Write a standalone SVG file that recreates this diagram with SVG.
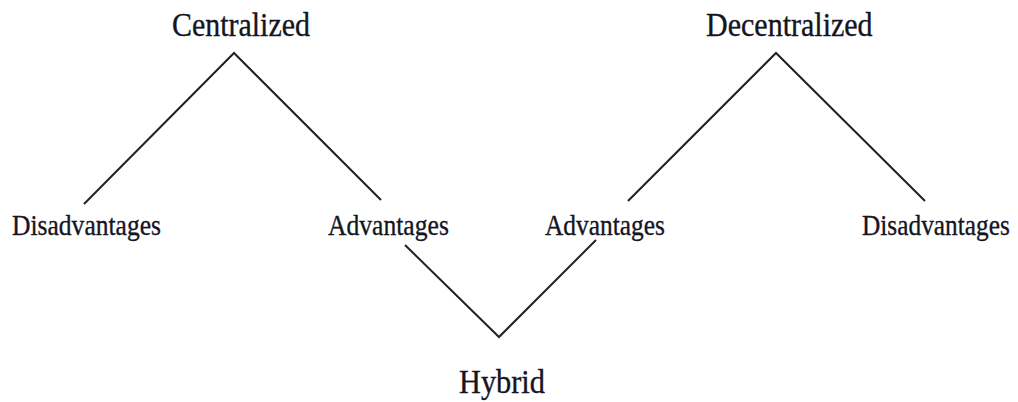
<svg xmlns="http://www.w3.org/2000/svg" width="1018" height="402" viewBox="0 0 1018 402">
  <style>
    .lbl { font-family: "Liberation Serif", "Times New Roman", serif; fill: #15151f; stroke: #15151f; stroke-width: 0.35; }
    .top { font-size: 33px; }
    .mid { font-size: 30px; }
    .edge { fill: none; stroke: #222; stroke-width: 2; stroke-linecap: butt; stroke-linejoin: miter; }
  </style>
  <rect width="1018" height="402" fill="#fff"/>

  <g id="connectors">
    <polyline class="edge" points="84,204 234,53 381,200"/>
    <polyline class="edge" points="405,245 499,337 596,240"/>
    <polyline class="edge" points="628,201 776,53 925,201"/>
  </g>

  <!-- labels are narrowed horizontally with a scale transform -->
  <g id="centralized">
    <text class="lbl top" transform="translate(172,36) scale(0.907,1)">Centralized</text>
  </g>
  <g id="decentralized">
    <text class="lbl top" transform="translate(706,36) scale(0.91,1)">Decentralized</text>
  </g>
  <g id="centralized-disadvantages">
    <text class="lbl mid" transform="translate(12,235) scale(0.852,1)">Disadvantages</text>
  </g>
  <g id="centralized-advantages">
    <text class="lbl mid" transform="translate(328,235) scale(0.854,1)">Advantages</text>
  </g>
  <g id="decentralized-advantages">
    <text class="lbl mid" transform="translate(545,235) scale(0.847,1)">Advantages</text>
  </g>
  <g id="decentralized-disadvantages">
    <text class="lbl mid" transform="translate(862,235) scale(0.845,1)">Disadvantages</text>
  </g>
  <g id="hybrid">
    <text class="lbl top" transform="translate(459,393) scale(0.92,1)">Hybrid</text>
  </g>
</svg>
